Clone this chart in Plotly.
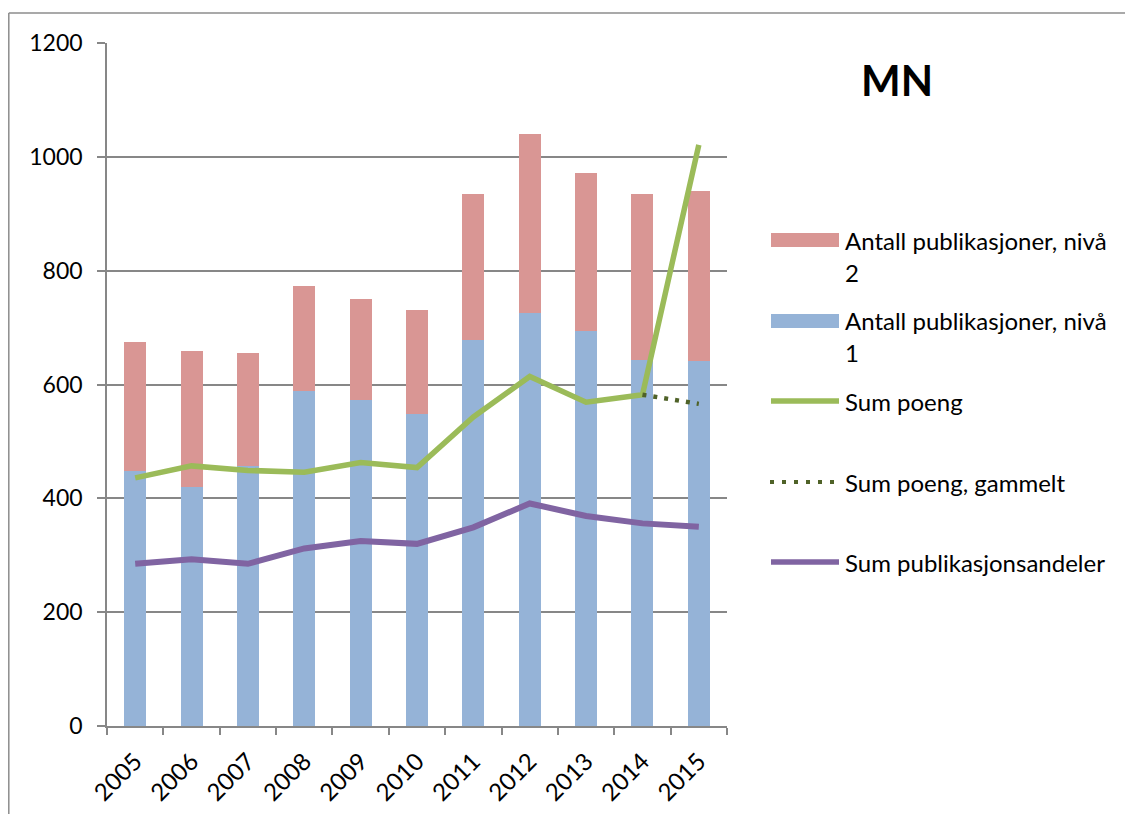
import plotly.graph_objects as go

years = ["2005", "2006", "2007", "2008", "2009", "2010", "2011", "2012", "2013", "2014", "2015"]
niva1 = [448, 420, 457, 589, 573, 549, 678, 726, 694, 643, 641]
niva2 = [227, 239, 198, 184, 177, 182, 257, 314, 277, 292, 299]
sum_poeng = [436, 457, 449, 446, 463, 454, 543, 614, 569, 582, 1021]
sum_poeng_gammelt = [None, None, None, None, None, None, None, None, None, 582, 566]
sum_andeler = [285, 293, 285, 312, 325, 320, 349, 391, 369, 356, 350]

C_N2 = "#D99694"
C_N1 = "#95B3D7"
C_GREEN = "#9BBB59"
C_DKGREEN = "#4F6228"
C_PURPLE = "#8064A2"
GRID = "#878787"
FONT = "Lato"

OFF = 8  # page body margin
W, H = 1133 - OFF, 814 - OFF
L, R, T, B = 107 - OFF, 727 - OFF, 43 - OFF, 726 - OFF


def xp(px):
    return (px - OFF - L) / (R - L)


def yp(py):
    return (B - (py - OFF)) / (B - T)


fig = go.Figure()
fig.add_trace(go.Bar(x=years, y=niva1, marker=dict(color=C_N1, line=dict(width=0)),
                     name="Antall publikasjoner, nivå 1", showlegend=False))
fig.add_trace(go.Bar(x=years, y=niva2, marker=dict(color=C_N2, line=dict(width=0)),
                     name="Antall publikasjoner, nivå 2", showlegend=False))
fig.add_trace(go.Scatter(x=years, y=sum_poeng, mode="lines",
                         line=dict(color=C_GREEN, width=5.5), name="Sum poeng", showlegend=False))
fig.add_trace(go.Scatter(x=years, y=sum_poeng_gammelt, mode="lines",
                         line=dict(color=C_DKGREEN, width=4.5, dash="4px,7px"),
                         name="Sum poeng, gammelt", showlegend=False))
fig.add_trace(go.Scatter(x=years, y=sum_andeler, mode="lines",
                         line=dict(color=C_PURPLE, width=6), name="Sum publikasjonsandeler",
                         showlegend=False))

shapes = []
# outer chart border (top and left)
shapes.append(dict(type="line", xref="paper", yref="paper", x0=xp(8.8), x1=xp(1140), y0=yp(13), y1=yp(13),
                   line=dict(color="#8c8c8c", width=1.5)))
shapes.append(dict(type="line", xref="paper", yref="paper", x0=xp(8.8), x1=xp(8.8), y0=yp(13), y1=yp(820),
                   line=dict(color="#8c8c8c", width=1.5)))

# manual legend
leg = [
    ("rect", C_N2, 240, ["Antall publikasjoner, nivå", "2"]),
    ("rect", C_N1, 321, ["Antall publikasjoner, nivå", "1"]),
    ("line", C_GREEN, 401, ["Sum poeng"]),
    ("dot", C_DKGREEN, 482, ["Sum poeng, gammelt"]),
    ("line", C_PURPLE, 562, ["Sum publikasjonsandeler"]),
]
annotations = []
for kind, col, cy, lines in leg:
    if kind == "rect":
        shapes.append(dict(type="rect", xref="paper", yref="paper", x0=xp(771), x1=xp(839),
                           y0=yp(cy + 7), y1=yp(cy - 7), fillcolor=col, line=dict(width=0)))
    elif kind == "line":
        shapes.append(dict(type="line", xref="paper", yref="paper", x0=xp(771), x1=xp(839),
                           y0=yp(cy), y1=yp(cy), line=dict(color=col, width=5.5)))
    else:
        shapes.append(dict(type="line", xref="paper", yref="paper", x0=xp(770), x1=xp(836),
                           y0=yp(cy), y1=yp(cy), line=dict(color=col, width=4, dash="4px,8px")))
    for i, txt in enumerate(lines):
        annotations.append(dict(text=txt, xref="paper", yref="paper", x=xp(843), y=yp(cy + 32 * i),
                                xanchor="left", yanchor="middle", showarrow=False,
                                font=dict(family=FONT, size=24, color="#000000")))

annotations.append(dict(text="<b>MN</b>", xref="paper", yref="paper", x=xp(897), y=yp(80),
                        xanchor="center", yanchor="middle", showarrow=False,
                        font=dict(family=FONT, size=42, color="#000000")))

fig.update_layout(
    width=W, height=H,
    margin=dict(l=L, r=W - R, t=T, b=H - B, autoexpand=False),
    paper_bgcolor="white", plot_bgcolor="white",
    barmode="stack", bargap=0.61,
    shapes=shapes, annotations=annotations,
    font=dict(family=FONT, size=22, color="#000000"),
)
fig.update_xaxes(
    type="category", showline=True, linecolor=GRID, linewidth=1.5,
    ticks="outside", tickson="boundaries", ticklen=7, tickcolor=GRID, tickwidth=1.5,
    tickangle=-45, tickfont=dict(family=FONT, size=24), showgrid=False,
    ticklabelstandoff=10,
)
fig.update_yaxes(
    range=[0, 1200], dtick=200, showline=True, linecolor=GRID, linewidth=1.5,
    ticks="outside", ticklen=8, tickcolor=GRID, tickwidth=1.5,
    showgrid=True, gridcolor=GRID, gridwidth=1.5, zeroline=False,
    tickfont=dict(family=FONT, size=23), ticklabelstandoff=10,
)

fig.write_html("out.html")
